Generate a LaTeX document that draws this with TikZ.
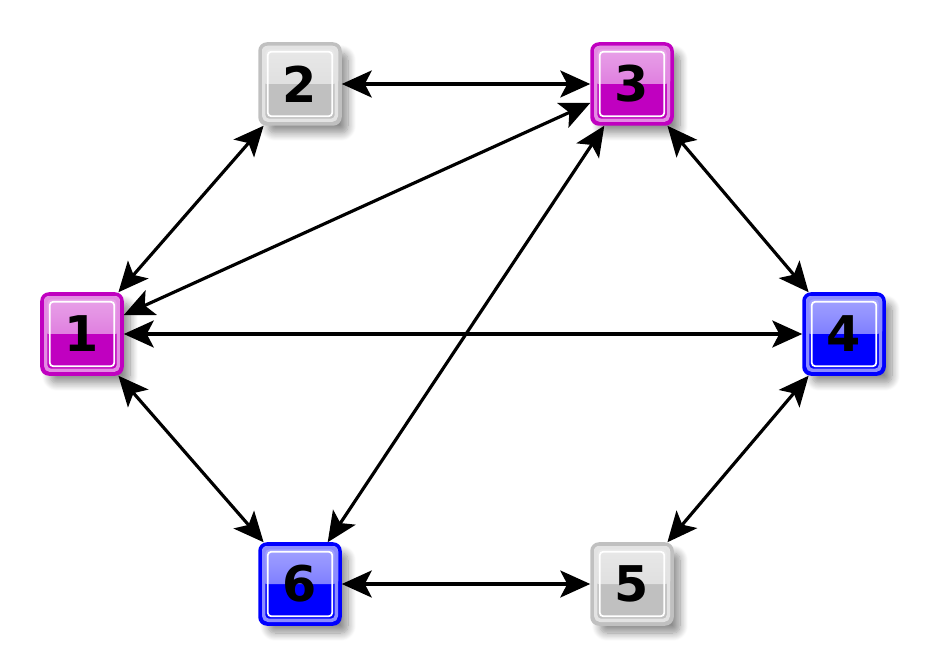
\documentclass[tikz,border=0pt]{standalone}
\usepackage{fontspec}
\setmainfont{DejaVu Sans}
\usepackage{tikz}
\usetikzlibrary{arrows.meta,shadows.blur}

\definecolor{mag}{RGB}{192,0,192}
\definecolor{blu}{RGB}{0,0,255}
\definecolor{gry}{RGB}{192,192,192}

\begin{document}
\begin{tikzpicture}[
  sq/.style={rectangle, rounded corners=2pt, minimum size=0.8cm, inner sep=0pt, line width=1pt,
    font=\bfseries\fontsize{14}{14}\selectfont,
    blur shadow={shadow xshift=0.08cm, shadow yshift=-0.09cm, shadow opacity=45, shadow blur radius=0.08cm, shadow blur steps=10}},
  tone/.style={sq, draw=#1, fill=#1, path picture={
    \shade[top color=#1!35!white, bottom color=#1!65!white]
      (path picture bounding box.north west) rectangle (path picture bounding box.east);
    \draw[#1!45!white, line width=1pt, rounded corners=1.5pt]
      ([shift={(1pt,1pt)}]path picture bounding box.south west) rectangle ([shift={(-1pt,-1pt)}]path picture bounding box.north east);
    \draw[white, line width=0.5pt, rounded corners=1pt]
      ([shift={(2.2pt,2.2pt)}]path picture bounding box.south west) rectangle ([shift={(-2.2pt,-2.2pt)}]path picture bounding box.north east);
  }},
  arrow/.style={{Stealth[length=0.3cm, width=0.27cm, inset=0.07cm]}-{Stealth[length=0.3cm, width=0.27cm, inset=0.07cm]}, line width=0.9pt}
]
  \useasboundingbox (0,0) rectangle (9.28,6.67);
  \node[tone=mag] (n1) at (0.82,3.33) {1};
  \node[tone=gry] (n2) at (3.00,5.83) {2};
  \node[tone=mag] (n3) at (6.32,5.83) {3};
  \node[tone=blu] (n4) at (8.44,3.33) {4};
  \node[tone=gry] (n5) at (6.32,0.83) {5};
  \node[tone=blu] (n6) at (3.00,0.83) {6};
  \draw[arrow] (n2) -- (n3);
  \draw[arrow] (n1) -- (n2);
  \draw[arrow] (n1) -- (n3);
  \draw[arrow] (n1) -- (n4);
  \draw[arrow] (n1) -- (n6);
  \draw[arrow] (n3) -- (n4);
  \draw[arrow] (n3) -- (n6);
  \draw[arrow] (n4) -- (n5);
  \draw[arrow] (n6) -- (n5);
\end{tikzpicture}
\end{document}
